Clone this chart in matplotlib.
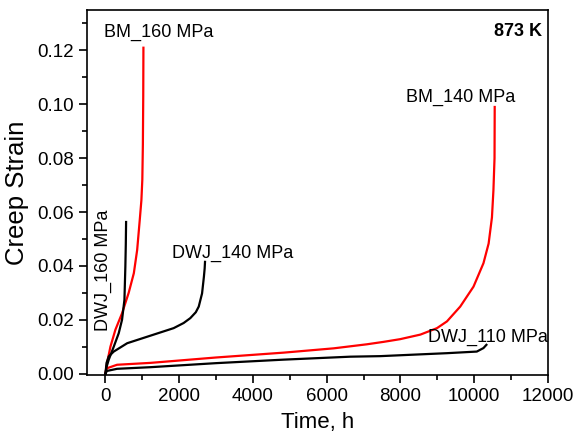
import matplotlib
matplotlib.use("Agg")
import matplotlib.pyplot as plt
from matplotlib.ticker import MultipleLocator, FormatStrFormatter

plt.rcParams['font.family'] = ['Liberation Sans', 'DejaVu Sans']

# BM_160 MPa (red)
bm160_t = [0, 45, 135, 270, 450, 630, 770, 860, 930, 975, 1000, 1015, 1025, 1030]
bm160_e = [0, 0.0040, 0.010, 0.0163, 0.0224, 0.030, 0.0373, 0.0459, 0.057, 0.0644, 0.072, 0.085, 0.103, 0.121]

# DWJ_160 MPa (black)
dwj160_t = [0, 30, 90, 225, 360, 450, 515, 540, 552, 560]
dwj160_e = [0, 0.0025, 0.0052, 0.010, 0.015, 0.020, 0.0274, 0.0397, 0.048, 0.0563]

# DWJ_140 MPa (black)
dwj140_t = [0, 30, 90, 225, 590, 1220, 1850, 2120, 2300, 2450, 2530, 2620, 2670, 2690, 2700]
dwj140_e = [0, 0.0040, 0.0064, 0.0082, 0.0113, 0.0141, 0.0169, 0.0188, 0.0206, 0.0228, 0.0249, 0.0298, 0.036, 0.039, 0.0415]

# BM_140 MPa (red)
bm140_t = [0, 40, 315, 1220, 3000, 4830, 6190, 7090, 7540, 7990, 8540, 8990, 9260, 9620, 9980, 10250, 10390, 10480, 10520, 10550, 10555]
bm140_e = [0, 0.0020, 0.0033, 0.0040, 0.0060, 0.0078, 0.0094, 0.0109, 0.0118, 0.0128, 0.0145, 0.0169, 0.0194, 0.0249, 0.0323, 0.041, 0.0483, 0.058, 0.068, 0.080, 0.099]

# DWJ_110 MPa (black)
dwj110_t = [0, 40, 315, 1220, 3000, 4830, 6640, 7450, 8270, 9260, 10070, 10250, 10330]
dwj110_e = [0, 0.0010, 0.0018, 0.0024, 0.0039, 0.0052, 0.0063, 0.0065, 0.0070, 0.0076, 0.0082, 0.0095, 0.0107]

fig = plt.figure(figsize=(5.77, 4.47), dpi=100)
ax = fig.add_axes([87/577, 1 - 375/447, (548 - 87)/577, (375 - 10)/447])

lw = 1.6
ax.plot(bm160_t, bm160_e, color='#ff0000', lw=lw)
ax.plot(bm140_t, bm140_e, color='#ff0000', lw=lw)
ax.plot(dwj160_t, dwj160_e, color='black', lw=lw)
ax.plot(dwj140_t, dwj140_e, color='black', lw=lw)
ax.plot(dwj110_t, dwj110_e, color='black', lw=lw)

ax.set_xlim(-500, 12000)
ax.set_ylim(-0.0005, 0.135)
ax.xaxis.set_major_locator(MultipleLocator(2000))
ax.xaxis.set_minor_locator(MultipleLocator(1000))
ax.yaxis.set_major_locator(MultipleLocator(0.02))
ax.yaxis.set_minor_locator(MultipleLocator(0.01))
ax.yaxis.set_major_formatter(FormatStrFormatter('%.2f'))
ax.tick_params(which='major', direction='out', length=6, width=1.2, labelsize=13.5)
ax.tick_params(which='minor', direction='out', length=3.5, width=1.2)
for s in ax.spines.values():
    s.set_linewidth(1.2)

ax.set_xlabel('Time, h', fontsize=16, labelpad=5)
ax.set_ylabel('Creep Strain', fontsize=18.5, labelpad=6)

fs = 13
ax.text(-50, 0.1265, 'BM_160 MPa', fontsize=fs, va='center', ha='left')
ax.text(11850, 0.127, '873 K', fontsize=fs, fontweight='bold', va='center', ha='right')
ax.text(8150, 0.1025, 'BM_140 MPa', fontsize=fs, va='center', ha='left')
ax.text(1800, 0.0445, 'DWJ_140 MPa', fontsize=fs, va='center', ha='left')
ax.text(-50, 0.0385, 'DWJ_160 MPa', fontsize=fs, va='center', ha='center', rotation=90)
ax.text(8750, 0.0135, 'DWJ_110 MPa', fontsize=fs, va='center', ha='left')

fig.savefig('out.png', dpi=100)
